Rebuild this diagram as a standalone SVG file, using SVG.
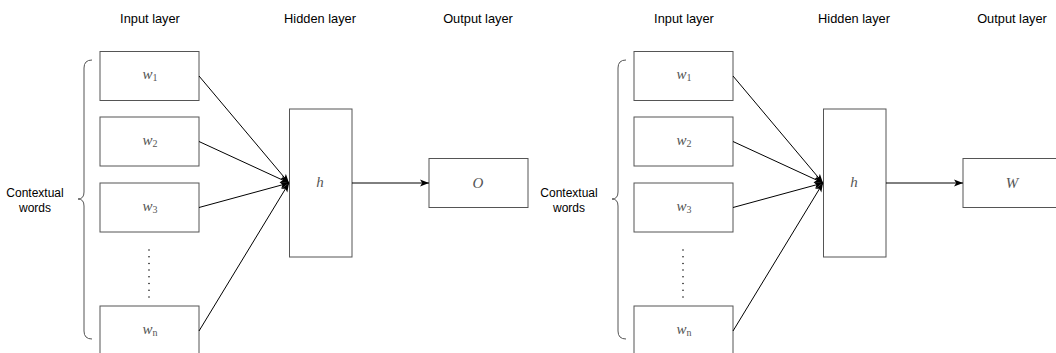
<svg xmlns="http://www.w3.org/2000/svg" width="1056" height="353" viewBox="0 0 1056 353">
<defs>
<marker id="arr" markerWidth="10" markerHeight="8" refX="9" refY="4" orient="auto" markerUnits="userSpaceOnUse">
<path d="M0,0.5 L9,4 L0,7.5 L2.2,4 Z" fill="#000"/>
</marker>
<style>
.box{fill:#fff;stroke:#555;stroke-width:1}
.lbl{font-family:"Liberation Sans",Arial,sans-serif;font-size:12px;fill:#000;text-anchor:middle}
.hd{font-size:12.8px}
.m{font-family:"Liberation Serif","Times New Roman",serif;font-style:italic;font-size:15px;fill:#555;text-anchor:middle}
.sub{font-style:normal;font-size:10px}
.edge{stroke:#000;stroke-width:1;fill:none;marker-end:url(#arr)}
.brace{stroke:#555;stroke-width:1;fill:none}
.dots{stroke:#000;stroke-width:1.5;stroke-linecap:round;stroke-dasharray:0,6.7;fill:none}
</style>
</defs>
<rect width="1056" height="353" fill="#fff"/>

<g id="left">
<g id="labels-left">
<text class="lbl hd" x="150" y="22.5">Input layer</text>
<text class="lbl hd" x="320" y="22.5">Hidden layer</text>
<text class="lbl hd" x="478" y="22.5">Output layer</text>
<text class="lbl" x="35" y="197">Contextual</text>
<text class="lbl" x="35" y="212">words</text>
</g>
<g id="brace-left"><path class="brace" d="M92,60 Q84,60 84,68 L84,192 Q84,199 78,199 Q84,199 84,206 L84,331 Q84,339 92,339"/></g>
<g id="L-w1"><rect class="box" x="100" y="51.5" width="99" height="49"/><text class="m" x="150" y="79">w<tspan class="sub" dy="2">1</tspan></text></g>
<g id="L-w2"><rect class="box" x="100" y="117" width="99" height="49"/><text class="m" x="150" y="144.5">w<tspan class="sub" dy="2">2</tspan></text></g>
<g id="L-w3"><rect class="box" x="100" y="183" width="99" height="49"/><text class="m" x="150" y="210.5">w<tspan class="sub" dy="2">3</tspan></text></g>
<g id="L-dots"><path class="dots" d="M149,250 L149,300"/></g>
<g id="L-wn"><rect class="box" x="100" y="306" width="99" height="50"/><text class="m" x="150" y="334">w<tspan class="sub" dy="2" font-style="italic">n</tspan></text></g>
<g id="L-h"><rect class="box" x="289.5" y="109" width="62.5" height="148"/><text class="m" x="320" y="187">h</text></g>
<g id="L-O"><rect class="box" x="429" y="158.5" width="99" height="49"/><text class="m" x="478" y="188">O</text></g>
<g id="L-edges">
<path class="edge" d="M199,76 L289,183"/>
<path class="edge" d="M199,141.5 L289,183"/>
<path class="edge" d="M199,207.5 L289,183"/>
<path class="edge" d="M199,331 L289,183"/>
<path class="edge" d="M352,183 L429,183"/>
</g>
</g>

<g id="right" transform="translate(534,0)">
<g id="labels-right">
<text class="lbl hd" x="150" y="22.5">Input layer</text>
<text class="lbl hd" x="320" y="22.5">Hidden layer</text>
<text class="lbl hd" x="478" y="22.5">Output layer</text>
<text class="lbl" x="35" y="197">Contextual</text>
<text class="lbl" x="35" y="212">words</text>
</g>
<g id="brace-right"><path class="brace" d="M92,60 Q84,60 84,68 L84,192 Q84,199 78,199 Q84,199 84,206 L84,331 Q84,339 92,339"/></g>
<g id="R-w1"><rect class="box" x="100" y="51.5" width="99" height="49"/><text class="m" x="150" y="79">w<tspan class="sub" dy="2">1</tspan></text></g>
<g id="R-w2"><rect class="box" x="100" y="117" width="99" height="49"/><text class="m" x="150" y="144.5">w<tspan class="sub" dy="2">2</tspan></text></g>
<g id="R-w3"><rect class="box" x="100" y="183" width="99" height="49"/><text class="m" x="150" y="210.5">w<tspan class="sub" dy="2">3</tspan></text></g>
<g id="R-dots"><path class="dots" d="M149,250 L149,300"/></g>
<g id="R-wn"><rect class="box" x="100" y="306" width="99" height="50"/><text class="m" x="150" y="334">w<tspan class="sub" dy="2" font-style="italic">n</tspan></text></g>
<g id="R-h"><rect class="box" x="289.5" y="109" width="62.5" height="148"/><text class="m" x="320" y="187">h</text></g>
<g id="R-W"><rect class="box" x="429" y="158.5" width="99" height="49"/><text class="m" x="478" y="188">W</text></g>
<g id="R-edges">
<path class="edge" d="M199,76 L289,183"/>
<path class="edge" d="M199,141.5 L289,183"/>
<path class="edge" d="M199,207.5 L289,183"/>
<path class="edge" d="M199,331 L289,183"/>
<path class="edge" d="M352,183 L429,183"/>
</g>
</g>
</svg>
